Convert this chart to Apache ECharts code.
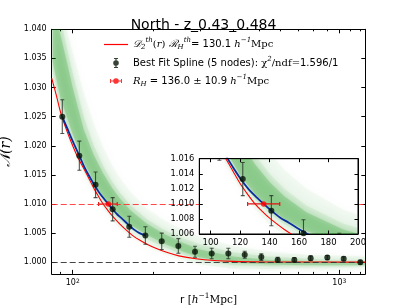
<!DOCTYPE html>
<html><head><meta charset="utf-8">
<script src="https://cdn.jsdelivr.net/npm/echarts@6/dist/echarts.min.js"></script>
<style>html,body{margin:0;padding:0;background:#fff}#c{width:407px;height:305px}</style>
</head><body><div id="c"></div>
<script>
// ---- data ----
const rPts = [91.4, 105.9, 121.8, 141.2, 163.0, 187.3, 215.7, 249.0, 287.6, 332.2, 383.4, 441.8, 509.8, 587.4, 678.1, 780.8, 901.6, 1038.7, 1199.0];
const yPts = [1.0250, 1.0183, 1.0133, 1.0091, 1.0061, 1.0046, 1.0036, 1.0028, 1.0018, 1.0015, 1.0015, 1.0013, 1.0009, 1.0004, 1.0004, 1.0007, 1.0008, 1.0006, 1.0000];
const yErr = [0.0029, 0.0025, 0.0022, 0.0020, 0.0018, 0.0015, 0.0014, 0.00125, 0.00095, 0.0009, 0.0009, 0.0006, 0.00057, 0.00045, 0.0004, 0.0004, 0.00035, 0.00035, 0.00035];

const rTheory = [83.4, 87, 90, 95, 100, 105, 110, 115, 120, 125, 130.1, 135, 140, 150, 160, 170, 180, 190, 205, 225, 250, 290, 340, 400, 500, 700, 1000, 1252];
const yTheory = [1.0316, 1.0285, 1.0258, 1.0226, 1.0200, 1.0178, 1.0161, 1.0144, 1.0127, 1.0113, 1.0100, 1.0090, 1.0081, 1.0066, 1.0054, 1.0044, 1.0037, 1.0031, 1.0024, 1.0017, 1.0011, 1.0006, 1.0003, 1.00015, 1.00007, 1.00004, 1.00003, 1.00003];

const rSpline = [91.4, 95, 100, 105.9, 111, 116, 121.5, 126, 131, 136, 141.2, 147, 153, 163, 170, 178, 187.3];
const ySpline = [1.0250, 1.0232, 1.0208, 1.0183, 1.0162, 1.0146, 1.0130, 1.0119, 1.0109, 1.0100, 1.0091, 1.0082, 1.0075, 1.0063, 1.0056, 1.0050, 1.0046];

const rBand = [84, 90, 95, 100, 110, 120, 130, 140, 150, 165, 190, 220, 260, 300, 400, 550, 750, 1000, 1260];
const bandOuterHi = [1.052, 1.046, 1.040, 1.0360, 1.0290, 1.0238, 1.0198, 1.0168, 1.0145, 1.0120, 1.0092, 1.0072, 1.0055, 1.0044, 1.0028, 1.0018, 1.0013, 1.0011, 1.0010];
const bandOuterLo = [1.0320, 1.0255, 1.0222, 1.0197, 1.0154, 1.0120, 1.0093, 1.0073, 1.0059, 1.0043, 1.0027, 1.0014, 1.0004, 0.9996, 0.9989, 0.9988, 0.9990, 0.9991, 0.9992];
const bandMidHi = [1.048, 1.042, 1.037, 1.0325, 1.0250, 1.0200, 1.0166, 1.0140, 1.0120, 1.0098, 1.0074, 1.0056, 1.0041, 1.0031, 1.0017, 1.0010, 1.0006, 1.0004, 1.0003];
const bandMidLo = [1.0330, 1.0268, 1.0236, 1.0208, 1.0164, 1.0131, 1.0106, 1.0087, 1.0073, 1.0057, 1.0040, 1.0026, 1.0013, 1.0004, 0.9995, 0.9993, 0.9993, 0.9993, 0.9993];
const bandCoreHi = [1.045, 1.039, 1.0345, 1.0300, 1.0228, 1.0184, 1.0153, 1.0129, 1.0110, 1.0089, 1.0066, 1.0049, 1.0033, 1.0022, 1.0010, 1.0004, 1.0002, 1.0001, 1.0001];
const bandCoreLo = [1.0345, 1.0282, 1.0250, 1.0220, 1.0172, 1.0138, 1.0113, 1.0094, 1.0080, 1.0064, 1.0047, 1.0032, 1.0018, 1.0008, 0.9999, 0.9996, 0.9995, 0.9995, 0.9995];

const rhR = [136.0], rhY = [1.010], rhErr = [10.9];
const yMainTicks = [1.000, 1.005, 1.010, 1.015, 1.020, 1.025, 1.030, 1.035, 1.040];
const xMainTicks = [100, 1000];
const xMinorTicks = [90, 200, 300, 400, 500, 600, 700, 800, 900, 1100, 1200];
const xInsetTicks = [100, 120, 140, 160, 180, 200];
const yInsetTicks = [1.006, 1.008, 1.010, 1.012, 1.014, 1.016];

const legendLabels = {
  theory: '{cal|𝒟}{sub|2}{sup|th}{rm|(}{it|r}{rm|) }{cal|ℛ}{sub|H}{sup|th}{n|= 130.1 }{it|h}{sup|−1}{rm|Mpc}',
  spline: '{n|Best Fit Spline (5 nodes): }{rm|χ}{sup|2}{rm|/ndf}{rm|=}{n|1.596/1}',
  rh: '{it|R}{sub|H}{n| = 136.0 }{rm|±}{n| 10.9 }{it|h}{sup|−1}{rm|Mpc}'
};

// ---- chart ----
const chart = echarts.init(document.getElementById('c'), null, {renderer: 'canvas'});
const BLACK = '#000';
const SANS = 'DejaVu Sans', SERIF = 'DejaVu Serif';
const richMath = {
  n: {fontFamily: SANS, fontSize: 10, lineHeight: 17, color: '#000'},
  rm: {fontFamily: SERIF, fontSize: 10, lineHeight: 17, color: '#000'},
  it: {fontFamily: SERIF, fontStyle: 'italic', fontSize: 10, lineHeight: 17, color: '#000'},
  cal: {fontFamily: SERIF, fontStyle: 'italic', fontSize: 10, lineHeight: 17, color: '#000'},
  sup: {fontFamily: SERIF, fontStyle: 'italic', fontSize: 7, verticalAlign: 'top', padding: [1, 0, 0, 0], color: '#000'},
  sub: {fontFamily: SERIF, fontStyle: 'italic', fontSize: 7, verticalAlign: 'bottom', padding: [0, 0, 2, 0], color: '#000'}
};

const MAIN = {x: 0, y: 0}, INSET = {x: 4, y: 2};
const XMIN = 83.41, XMAX = 1251.7;

function bandSeries(hi, lo, fill, shadow, blur, ax, z) {
  return {
    type: 'custom', xAxisIndex: ax.x, yAxisIndex: ax.y, z: z, clip: true, silent: true,
    data: [[rBand[0], lo[0]]],
    renderItem: function (params, api) {
      const pts = [];
      for (let i = 0; i < rBand.length; i++) pts.push(api.coord([rBand[i], hi[i]]));
      for (let i = rBand.length - 1; i >= 0; i--) pts.push(api.coord([rBand[i], lo[i]]));
      return {type: 'polygon', shape: {points: pts},
        style: {fill: fill, shadowBlur: blur, shadowColor: shadow}};
    }
  };
}
function vErrSeries(ax, z) {
  return {
    type: 'custom', xAxisIndex: ax.x, yAxisIndex: ax.y, z: z, clip: true, silent: true,
    data: rPts.map((r, i) => [r, yPts[i], yErr[i]]),
    renderItem: function (params, api) {
      const r = api.value(0), y = api.value(1), e = api.value(2);
      const t = api.coord([r, y + e]), b = api.coord([r, y - e]);
      const st = {stroke: 'rgba(40,48,40,0.8)', lineWidth: 1.1};
      return {type: 'group', children: [
        {type: 'line', shape: {x1: t[0], y1: t[1], x2: b[0], y2: b[1]}, style: st},
        {type: 'line', shape: {x1: t[0] - 2, y1: t[1], x2: t[0] + 2, y2: t[1]}, style: st},
        {type: 'line', shape: {x1: b[0] - 2, y1: b[1], x2: b[0] + 2, y2: b[1]}, style: st}
      ]};
    }
  };
}
function hErrSeries(ax, z) {
  return {
    type: 'custom', xAxisIndex: ax.x, yAxisIndex: ax.y, z: z, clip: true, silent: true,
    data: rhR.map((r, i) => [r, rhY[i], rhErr[i]]),
    renderItem: function (params, api) {
      const r = api.value(0), y = api.value(1), e = api.value(2);
      const l = api.coord([r - e, y]), rr = api.coord([r + e, y]);
      const st = {stroke: '#e01010', lineWidth: 1.1};
      return {type: 'group', children: [
        {type: 'line', shape: {x1: l[0], y1: l[1], x2: rr[0], y2: rr[1]}, style: st},
        {type: 'line', shape: {x1: l[0], y1: l[1] - 2, x2: l[0], y2: l[1] + 2}, style: st},
        {type: 'line', shape: {x1: rr[0], y1: rr[1] - 2, x2: rr[0], y2: rr[1] + 2}, style: st}
      ]};
    }
  };
}
function seriesSet(ax, z0) {
  return [
    bandSeries(bandOuterHi, bandOuterLo, 'rgba(0,150,0,0.035)', 'rgb(0,150,0)', 10, ax, z0),
    bandSeries(bandMidHi, bandMidLo, 'rgba(0,150,0,0.065)', 'rgb(0,150,0)', 8, ax, z0),
    bandSeries(bandCoreHi, bandCoreLo, 'rgba(0,140,0,0.18)', 'rgb(0,140,0)', 6, ax, z0),
    {type: 'line', name: 'theory', xAxisIndex: ax.x, yAxisIndex: ax.y, z: z0 + 1,
     data: rTheory.map((r, i) => [r, yTheory[i]]), symbol: 'none', smooth: 0.3, clip: true,
     itemStyle: {color: '#ff0000'}, lineStyle: {color: '#ff0000', width: 1.1},
     markLine: {silent: true, symbol: 'none', label: {show: false},
       lineStyle: {color: 'rgba(255,40,40,0.85)', type: [6, 3], width: 1.1},
       data: [{yAxis: 1.010}]}},
    {type: 'line', name: 'fit', xAxisIndex: ax.x, yAxisIndex: ax.y, z: z0 + 2,
     data: rSpline.map((r, i) => [r, ySpline[i]]), symbol: 'none', smooth: 0.3, clip: true,
     lineStyle: {color: '#0a2d9e', width: 1.8},
     markLine: {silent: true, symbol: 'none', label: {show: false},
       lineStyle: {color: 'rgba(50,50,50,0.9)', type: [6, 3], width: 1.1},
       data: [{yAxis: 1.000}]}},
    vErrSeries(ax, z0 + 3),
    {type: 'scatter', name: 'spline', xAxisIndex: ax.x, yAxisIndex: ax.y, z: z0 + 4, clip: true,
     data: rPts.map((r, i) => [r, yPts[i]]), symbolSize: 6, itemStyle: {color: '#051405'}},
    hErrSeries(ax, z0 + 3),
    {type: 'scatter', name: 'rh', xAxisIndex: ax.x, yAxisIndex: ax.y, z: z0 + 5, clip: true,
     data: rhR.map((r, i) => [r, rhY[i]]), symbolSize: 5.5,
     itemStyle: {color: '#ff0000'}}
  ];
}

function logX(pos, ticks, len, label, extra) {
  return Object.assign({
    gridIndex: 0, type: 'log', logBase: 10, min: XMIN, max: XMAX, position: pos,
    axisLine: {show: true, onZero: false, lineStyle: {color: BLACK, width: 1}},
    axisTick: {show: true, inside: true, length: len, customValues: ticks, lineStyle: {color: BLACK}},
    axisLabel: label ? {customValues: ticks, margin: 5, formatter: v => '{b|10}{s|' + Math.round(Math.log10(v)) + '}',
      rich: {b: {fontFamily: SANS, fontSize: 8, color: '#000'}, s: {fontFamily: SANS, fontSize: 6, verticalAlign: 'top', color: '#000'}}}
      : {show: false},
    splitLine: {show: false}, minorTick: {show: false}
  }, extra || {});
}

const option = {
  animation: false,
  backgroundColor: '#fff',
  title: {text: 'North - z_0.43_0.484', left: 'center', top: 10,
    textStyle: {fontFamily: SANS, fontSize: 14, lineHeight: 20, fontWeight: 'normal', color: '#000'}},
  legend: {
    orient: 'vertical', left: 104, top: 37, padding: 0, itemGap: 4.5,
    itemWidth: 24, itemHeight: 12, selectedMode: false,
    data: [
      {name: 'theory', icon: 'path://M0,0M24,12M0,5.4H24V6.6H0Z'},
      {name: 'spline', icon: 'path://M0,0M24,12M11.4,1H12.6V3.3H11.4Z M11.4,8.7H12.6V11H11.4Z M10,1H14V2H10Z M10,10H14V11H10Z M12,3.2A2.8,2.8 0 1 1 11.99,3.2Z'},
      {name: 'rh', icon: 'path://M0,0M24,12M6,5.4H9.3V6.6H6Z M14.7,5.4H18V6.6H14.7Z M6,4H7V8H6Z M17,4H18V8H17Z M12,3.2A2.8,2.8 0 1 1 11.99,3.2Z'}
    ],
    formatter: n => legendLabels[n],
    textStyle: {fontFamily: SANS, fontSize: 10, color: '#000', rich: richMath}
  },
  grid: [
    {left: 51.7, top: 29.3, width: 313.6, height: 244.6, containLabel: false, outerBoundsMode: 'none', show: false},
    {left: 199.3, top: 158.7, width: 158.7, height: 75.3, containLabel: false, outerBoundsMode: 'none', show: true,
     backgroundColor: '#fff', borderColor: BLACK, borderWidth: 1, z: 10}
  ],
  xAxis: [
    logX('bottom', xMainTicks, 4, true, {
      name: '{n|r [}{it|h}{sup|−1}{rm|Mpc]}', nameLocation: 'middle', nameGap: 15,
      nameTextStyle: {rich: {
        n: {fontFamily: SANS, fontSize: 10.5, color: '#000'},
        it: {fontFamily: SERIF, fontStyle: 'italic', fontSize: 10.5, color: '#000', lineHeight: 16},
        rm: {fontFamily: SERIF, fontSize: 10.5, color: '#000', lineHeight: 16},
        sup: {fontFamily: SERIF, fontSize: 7.5, color: '#000', verticalAlign: 'top'}}}}),
    logX('top', xMainTicks, 4, false),
    logX('bottom', xMinorTicks, 2, false, {axisLine: {show: false}}),
    logX('top', xMinorTicks, 2, false, {axisLine: {show: false}}),
    {gridIndex: 1, type: 'value', min: 92.3, max: 200, position: 'bottom', z: 15,
     axisLine: {show: true, onZero: false, lineStyle: {color: BLACK}},
     axisTick: {show: true, inside: true, length: 3.5, customValues: xInsetTicks, lineStyle: {color: BLACK}},
     axisLabel: {customValues: xInsetTicks, margin: 4, fontFamily: SANS, fontSize: 8.5, color: '#000'},
     splitLine: {show: false}},
    {gridIndex: 1, type: 'value', min: 92.3, max: 200, position: 'top', z: 15,
     axisLine: {show: true, onZero: false, lineStyle: {color: BLACK}},
     axisTick: {show: true, inside: true, length: 3.5, customValues: xInsetTicks, lineStyle: {color: BLACK}},
     axisLabel: {show: false}, splitLine: {show: false}}
  ],
  yAxis: [
    {gridIndex: 0, type: 'value', min: 0.998, max: 1.040, position: 'left',
     axisLine: {show: true, onZero: false, lineStyle: {color: BLACK}},
     axisTick: {show: true, inside: true, length: 4, customValues: yMainTicks, lineStyle: {color: BLACK}},
     axisLabel: {customValues: yMainTicks, margin: 5, formatter: v => v.toFixed(3), fontFamily: SANS, fontSize: 8, color: '#000'},
     splitLine: {show: false},
     name: '𝒩(r)', nameLocation: 'middle', nameRotate: 90, nameGap: 27,
     nameTextStyle: {fontFamily: SERIF, fontStyle: 'italic', fontSize: 14, color: '#000'}},
    {gridIndex: 0, type: 'value', min: 0.998, max: 1.040, position: 'right',
     axisLine: {show: true, onZero: false, lineStyle: {color: BLACK}},
     axisTick: {show: true, inside: true, length: 4, customValues: yMainTicks, lineStyle: {color: BLACK}},
     axisLabel: {show: false}, splitLine: {show: false}},
    {gridIndex: 1, type: 'value', min: 1.006, max: 1.016, position: 'left', z: 15,
     axisLine: {show: true, onZero: false, lineStyle: {color: BLACK}},
     axisTick: {show: true, inside: true, length: 3.5, customValues: yInsetTicks, lineStyle: {color: BLACK}},
     axisLabel: {customValues: yInsetTicks, margin: 5, formatter: v => v.toFixed(3), fontFamily: SANS, fontSize: 8.3, color: '#000'},
     splitLine: {show: false}},
    {gridIndex: 1, type: 'value', min: 1.006, max: 1.016, position: 'right', z: 15,
     axisLine: {show: true, onZero: false, lineStyle: {color: BLACK}},
     axisTick: {show: true, inside: true, length: 3.5, customValues: yInsetTicks, lineStyle: {color: BLACK}},
     axisLabel: {show: false}, splitLine: {show: false}}
  ],
  series: seriesSet(MAIN, 1).concat(seriesSet(INSET, 11))
};
chart.setOption(option);
</script>
</body></html>
